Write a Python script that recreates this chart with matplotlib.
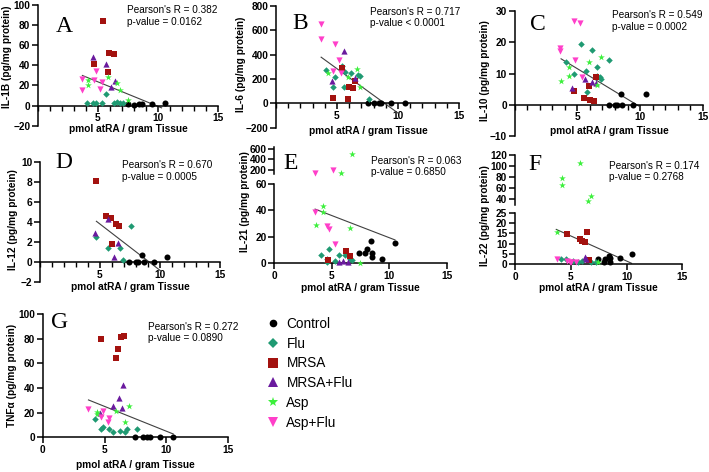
import numpy as np
import matplotlib
matplotlib.use("Agg")
import matplotlib.pyplot as plt
from matplotlib.lines import Line2D

plt.rcParams['font.family'] = ['Liberation Sans', 'DejaVu Sans']

W, H = 709, 472

groups = ["Control", "Flu", "MRSA", "MRSA+Flu", "Asp", "Asp+Flu"]
colors = ["#000000", "#1f9a72", "#a3120f", "#6a1a9e", "#3cf03c", "#ff3fc9"]
markers = ["o", "D", "s", "^", "*", "v"]
msize = [19, 11, 18, 20, 26, 20]

# ---- data: (atRA x, cytokine y) per group ----
il1b = {
    "Control": ([7.5, 8.0, 8.45, 8.65, 9.5, 10.55], [1.5, 0.3, 2.0, 1.5, 1.5, 2.2]),
    "Flu": ([4.1, 4.6, 4.85, 5.3, 5.7, 6.3, 6.55, 6.8, 7.1], [2.5, 2.5, 2.5, 2.5, 11.5, 3, 3.5, 3, 2.5]),
    "MRSA": ([5.45, 5.95, 6.3, 4.65, 5.85], [84, 52.5, 51, 41, 33.5]),
    "MRSA+Flu": ([4.55, 5.65, 6.45, 6.1], [48, 41.5, 24.5, 18.5]),
    "Asp": ([4.2, 4.2, 5.8, 6.6, 6.8, 7.5], [25, 20, 28.5, 22, 15.5, 5.5]),
    "Asp+Flu": ([3.65, 3.7, 4.8, 4.7, 5.15, 5.3], [26, 15, 34.5, 25.5, 16.5, 23.5]),
}
il6 = {
    "Control": ([7.5, 8.0, 8.45, 8.6, 9.45, 10.55], [2, 2, 3, 6, 2, 2]),
    "Flu": ([4.1, 4.85, 4.65, 5.65, 6.15, 5.6, 6.7, 6.85, 5.4, 7.6], [273, 218, 131, 260, 251, 131, 232, 224, 305, 38]),
    "MRSA": ([5.45, 6.5, 6.0, 6.3, 4.65, 5.9], [292, 183, 131, 123, 41, 36]),
    "MRSA+Flu": ([5.6, 4.6, 6.45], [432, 183, 205]),
    "Asp": ([4.3, 6.65, 6.9, 5.9], [251, 279, 135, 213]),
    "Asp+Flu": ([3.65, 3.7, 4.8, 5.2, 4.65, 5.35], [650, 527, 484, 355, 265, 251]),
}
il10 = {
    "Control": ([7.5, 8.0, 8.15, 8.6, 9.4, 8.5, 10.5], [0, 0, 0, 0, 0, 3.4, 3.6]),
    "Flu": ([5.3, 6.2, 7.55, 4.1, 6.6, 4.75, 5.7, 6.6, 6.8, 6.9, 5.75],
            [19.3, 17.6, 14.4, 13.8, 12.0, 9.9, 10.7, 9.3, 8.8, 8.4, 4.1]),
    "MRSA": ([4.75, 5.5, 5.9, 6.0, 6.3, 6.45], [4.3, 2.3, 6.1, 1.5, 1.2, 8.9]),
    "MRSA+Flu": ([5.6, 6.15, 6.45, 4.6], [8.2, 7.4, 7.0, 5.5]),
    "Asp": ([6.9, 5.9, 4.3, 4.3, 3.7, 6.6], [15.4, 13.6, 12.0, 9.2, 7.5, 6.3]),
    "Asp+Flu": ([4.7, 5.2, 3.65, 3.65, 4.85, 5.35], [26.8, 26.2, 18.2, 17.3, 14.3, 9.0]),
}
il12 = {
    "Control": ([7.45, 8.0, 8.15, 8.65, 9.5, 8.5, 10.6], [0, 0, 0, 0, 0, 0.75, 0.5]),
    "Flu": ([4.7, 5.7, 6.7, 7.6, 6.9], [2.5, 1.45, 1.45, 3.65, 0.2]),
    "MRSA": ([4.7, 5.5, 5.9, 6.35, 6.55, 6.0], [8.1, 4.6, 4.35, 3.8, 3.6, 1.8]),
    "MRSA+Flu": ([4.55, 5.65, 6.5, 6.15], [2.9, 4.25, 1.9, 0.55]),
}
il21 = {
    "Control": ([7.4, 7.9, 8.05, 8.4, 8.5, 8.5, 9.35, 10.5], [8.1, 8.1, 10.6, 16.5, 7.6, 5.1, 3.3, 15.2]),
    "Flu": ([4.05, 4.8, 4.55, 4.55, 5.65, 6.15, 5.25, 6.6, 6.75], [6.1, 10.9, 3.0, 1.3, 6.1, 6.1, 2.0, 3.0, 2.5]),
    "MRSA": ([4.65, 6.25, 6.55], [2.5, 9.4, 5.6]),
    "MRSA+Flu": ([5.65, 6.0, 6.4], [1.3, 2.0, 1.3]),
    "Asp": ([4.2, 4.2, 3.65, 6.55, 7.45, 6.75, 5.8], [43.5, 38.7, 29, 27, 0.5, 500, 140]),
    "Asp+Flu": ([3.55, 4.55, 4.8, 5.3, 3.55, 5.1], [38.5, 28.4, 26, 14.4, 140, 200]),
}
il22 = {
    "Control": ([7.45, 7.95, 8.05, 8.45, 8.55, 8.55, 9.4, 10.5], [2.6, 1.3, 2.4, 4.2, 2.9, 1.0, 2.9, 4.8]),
    "Flu": ([4.1, 4.6, 5.2, 5.65, 6.05, 6.8, 7.3], [2.4, 2.4, 1.6, 1.3, 1.6, 1.3, 1.0]),
    "MRSA": ([4.7, 5.8, 6.05, 6.25, 6.5, 6.6], [14.5, 12.3, 11.3, 10.6, 15.5, 2.1]),
    "MRSA+Flu": ([6.25, 6.4], [3.4, 2.4]),
    "Asp": ([3.75, 7.45, 5.8, 4.2, 4.25, 6.8, 6.55], [15.5, 1.3, 106, 78, 66, 46, 36]),
    "Asp+Flu": ([3.75, 4.7, 4.95, 5.05, 5.45], [2.4, 1.6, 1.3, 1.3, 1.0]),
}
tnfa = {
    "Control": ([7.45, 8.1, 8.4, 8.65, 9.5, 10.55], [0, 0, 0, 0.5, 0, 0]),
    "Flu": ([4.2, 4.7, 4.9, 5.35, 5.7, 6.25, 6.65, 6.85, 7.6], [14.6, 6.8, 8.1, 6.5, 4.6, 5.1, 4.6, 6.5, 6.5]),
    "MRSA": ([4.75, 6.05, 5.9, 6.35, 6.6], [80, 72, 64.5, 81, 82.4]),
    "MRSA+Flu": ([4.65, 5.65, 6.15, 6.4, 6.5], [20, 25.5, 31.5, 24, 42.5]),
    "Asp": ([4.35, 5.9, 6.95, 6.65, 4.35], [20.5, 21.5, 25, 12.7, 19]),
    "Asp+Flu": ([3.7, 4.9, 4.7, 5.25, 5.35], [22.7, 21.6, 16.2, 12.7, 15.4]),
}

# regression lines as drawn (x ends, y ends)
fit_a = ([3.7, 10.3], [29.8, -2.3])
fit_b = ([3.7, 10.0], [378, -80])
fit_c = ([3.7, 9.9], [14.7, -0.4])
fit_d = ([4.7, 10.1], [4.07, -0.9])
fit_e = ([3.55, 10.5], [41, 17.7])
fit_f = ([3.7, 10.45], [16.9, 0.5])
fit_g = ([3.7, 10.55], [30.3, 2.7])

stats = {"A": ("0.382", "= 0.0162"), "B": ("0.717", "< 0.0001"), "C": ("0.549", "= 0.0002"),
         "D": ("0.670", "= 0.0005"), "E": ("0.063", "= 0.6850"), "F": ("0.174", "= 0.2768"),
         "G": ("0.272", "= 0.0890")}

fig = plt.figure(figsize=(W / 100, H / 100), dpi=100)

TFS = 7.3


def px_axes(l, r, t, b):
    return fig.add_axes([l / W, 1 - b / H, (r - l) / W, (b - t) / H])


def style(ax, ylim, yticks, xzero=True, minor=True):
    ax.set_xlim(0, 15)
    ax.set_ylim(*ylim)
    for s in ["top", "right"]:
        ax.spines[s].set_visible(False)
    for s in ["left", "bottom"]:
        ax.spines[s].set_linewidth(1.1)
    if xzero:
        ax.spines["bottom"].set_position(("data", 0))
        ax.set_xticks([5, 10, 15])
    else:
        ax.set_xticks([0, 5, 10, 15])
    if minor:
        ax.set_xticks(np.arange(0, 16, 1), minor=True)
    ax.set_yticks(yticks)
    ax.tick_params(direction="out", length=4, width=1.1, labelsize=TFS, pad=1.5)
    ax.tick_params(which="minor", direction="out", length=3.5, width=1.0)
    for lab in ax.get_xticklabels() + ax.get_yticklabels():
        lab.set_fontweight("bold")
    ax.patch.set_alpha(0)


def scatter(ax, data, lo=None, hi=None, clip=False):
    for g, c, m, s in zip(groups, colors, markers, msize):
        if g not in data:
            continue
        x = np.array(data[g][0])
        y = np.array(data[g][1])
        keep = np.ones(len(y), bool)
        if lo is not None:
            keep &= y >= lo
        if hi is not None:
            keep &= y <= hi
        ax.scatter(x[keep], y[keep], marker=m, s=s, color=c, linewidths=0, clip_on=clip, zorder=3)


def fitline(ax, fit):
    ax.plot(fit[0], fit[1], color="#404040", lw=0.8, zorder=2, clip_on=False)


def labels(letter, lx, ly, px_, py_, ylab, ylx, yly, xlx, xly):
    fig.text(lx / W, 1 - ly / H, letter, family="Liberation Serif", fontsize=17, ha="center", va="center")
    r, p = stats[letter]
    fig.text(px_ / W, 1 - py_ / H, "Pearson's R = " + r, fontsize=7.2, va="center")
    fig.text(px_ / W, 1 - (py_ + 11.7) / H, "p-value " + p, fontsize=7.2, va="center")
    fig.text(ylx / W, 1 - yly / H, ylab, rotation=90, fontsize=TFS, fontweight="bold", ha="center", va="center")
    fig.text(xlx / W, 1 - xly / H, "pmol atRA / gram Tissue", fontsize=TFS, fontweight="bold", ha="center", va="center")


# A
ax = px_axes(38, 218, 4.7, 125.7)
style(ax, (-20, 100), np.arange(-20, 101, 20))
scatter(ax, il1b)
fitline(ax, fit_a)
labels("A", 64.5, 26, 126.7, 10, "IL-1B (pg/mg protein)", 7, 57, 128, 128.5)

# B
ax = px_axes(276, 459, 5.7, 127.7)
style(ax, (-200, 800), np.arange(-200, 801, 200))
scatter(ax, il6)
fitline(ax, fit_b)
labels("B", 300, 23.3, 370, 11.7, "IL-6 (pg/mg protein)", 241, 64, 368, 131)

# C
ax = px_axes(514.7, 702.7, 11, 136)
style(ax, (-10, 30), np.arange(-10, 31, 10))
scatter(ax, il10)
fitline(ax, fit_c)
labels("C", 538, 24, 611.7, 15, "IL-10 (pg/mg protein)", 485, 71, 609, 130.5)

# D
ax = px_axes(40, 220, 161.7, 282.3)
style(ax, (-2, 10), np.arange(-2, 11, 2))
scatter(ax, il12)
fitline(ax, fit_d)
labels("D", 64, 162, 121.7, 165, "IL-12 (pg/mg protein)", 12.7, 220, 130, 287.3)

# E (broken y axis)
ax = px_axes(274.3, 446.7, 184, 263.3)
style(ax, (0, 60), [0, 20, 40, 60], xzero=False, minor=False)
scatter(ax, il21, hi=60)
fitline(ax, fit_e)
axu = px_axes(274.3, 446.7, 147.5, 174)
style(axu, (125, 620), [200, 400, 600], xzero=False, minor=False)
axu.spines["bottom"].set_visible(False)
axu.set_xticks([])
axu.set_xticks([], minor=True)
scatter(axu, il21, lo=60)
labels("E", 291, 163, 371, 160.7, "IL-21 (pg/mg protein)", 245, 201.7, 360.5, 287.7)

# F (broken y axis)
ax = px_axes(515, 682.3, 212.7, 264.3)
style(ax, (0, 25), [0, 5, 10, 15, 20, 25], xzero=False, minor=False)
scatter(ax, il22, hi=25)
fitline(ax, fit_f)
axu = px_axes(515, 682.3, 155, 204.8)
style(axu, (30, 120), [40, 60, 80, 100, 120], xzero=False, minor=False)
axu.spines["bottom"].set_visible(False)
axu.set_xticks([])
axu.set_xticks([], minor=True)
scatter(axu, il22, lo=25)
labels("F", 535, 164.5, 609.3, 165.7, "IL-22 (pg/mg protein)", 485, 216, 598.7, 287.7)

# G
ax = px_axes(42.7, 228.3, 314, 437.3)
style(ax, (0, 100), np.arange(0, 101, 20), xzero=False, minor=False)
scatter(ax, tnfa)
fitline(ax, fit_g)
labels("G", 60, 322.5, 148.3, 326.7, "TNF\u03b1 (pg/mg protein)", 11.7, 375, 135.5, 465)

# legend
handles = [Line2D([], [], ls="none", marker=m, color=c, markersize=ms, markeredgewidth=0)
           for m, c, ms in zip(markers, colors, [5.5, 5, 6.5, 6.5, 7.5, 6.5])]
fig.legend(handles, groups, loc="upper left", bbox_to_anchor=(266 / W, 1 - 317 / H),
           frameon=False, fontsize=9.8, handlelength=1.0, handletextpad=0.5,
           labelspacing=0.42, borderpad=0, borderaxespad=0)

fig.savefig("out.png", dpi=100)
